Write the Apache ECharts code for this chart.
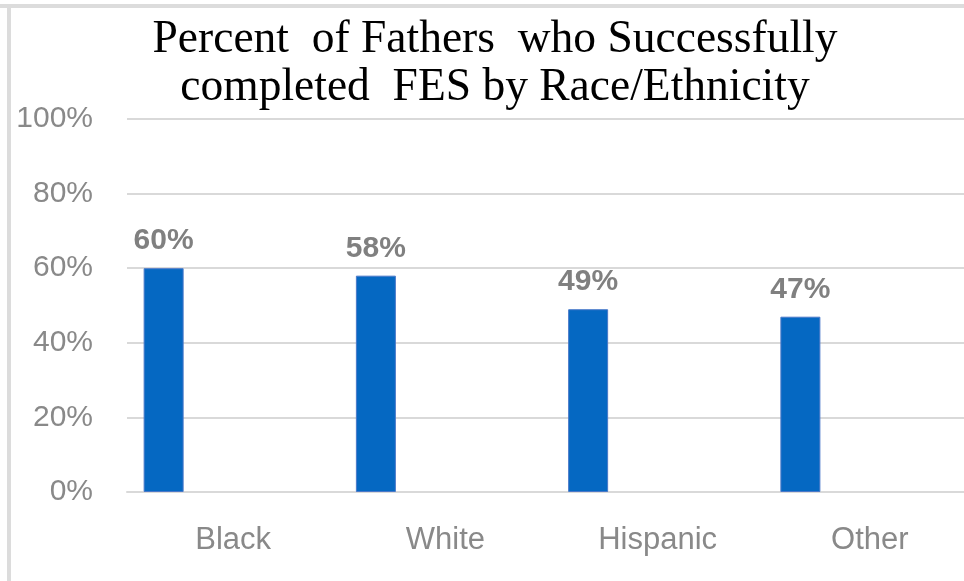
<!DOCTYPE html>
<html>
<head>
<meta charset="utf-8">
<style>
  html, body { margin: 0; padding: 0; background: #ffffff; }
  #chart { width: 964px; height: 581px; }
</style>
<script src="https://cdn.jsdelivr.net/npm/echarts@6/dist/echarts.min.js"></script>
</head>
<body>
<div id="chart"></div>
<script>
// Completion rate by race/ethnicity (percent)
const categories = ['Black', 'White', 'Hispanic', 'Other'];
const completedPct = [60, 58, 49, 47];
const yTicks = [0, 20, 40, 60, 80, 100];

const chart = echarts.init(document.getElementById('chart'));

const gray = '#898989';
const sansFont = '"Liberation Sans", Arial, sans-serif';

chart.setOption({
  animation: false,
  backgroundColor: '#ffffff',
  title: {
    text: 'Percent  of Fathers  who Successfully\ncompleted  FES by Race/Ethnicity',
    left: 490,
    textAlign: 'center',
    top: 11,
    textStyle: {
      fontFamily: '"Liberation Serif", "Times New Roman", serif',
      fontSize: 45.5,
      fontWeight: 'normal',
      color: '#000000',
      lineHeight: 48
    }
  },
  graphic: [
    { type: 'rect', shape: { x: 0, y: 4, width: 964, height: 4 }, style: { fill: '#dcdcdc' }, silent: true },
    { type: 'rect', shape: { x: 7, y: 4, width: 4, height: 577 }, style: { fill: '#dcdcdc' }, silent: true }
  ],
  // plot area runs slightly past the right edge of the canvas
  grid: {
    left: 127, width: 849, top: 119, bottom: 89,
    containLabel: false,
    outerBoundsMode: 'none'
  },
  xAxis: {
    type: 'category',
    data: categories,
    axisLine: { lineStyle: { color: '#d9d9d9', width: 2 } },
    axisTick: { show: false },
    axisLabel: {
      color: gray,
      fontFamily: sansFont,
      fontSize: 31,
      margin: 33
    }
  },
  yAxis: {
    type: 'value',
    min: yTicks[0],
    max: yTicks[yTicks.length - 1],
    interval: yTicks[1] - yTicks[0],
    axisLine: { show: false },
    axisTick: { show: false },
    splitLine: { lineStyle: { color: '#d9d9d9', width: 2 } },
    axisLabel: {
      color: gray,
      fontFamily: sansFont,
      fontSize: 30,
      margin: 34,
      formatter: '{value}%'
    }
  },
  series: [
    {
      name: 'Completed',
      type: 'bar',
      data: completedPct,
      barWidth: 40,
      barGap: '247.5%',
      itemStyle: { color: '#0568c2', borderColor: '#4a79c9', borderWidth: 1 },
      label: {
        show: true,
        position: 'top',
        distance: 12,
        formatter: '{c}%',
        color: '#808080',
        fontFamily: sansFont,
        fontSize: 30,
        fontWeight: 'bold'
      }
    },
    {
      name: 'Not completed',
      type: 'bar',
      data: categories.map(() => null),
      barWidth: 40
    }
  ]
});
</script>
</body>
</html>
